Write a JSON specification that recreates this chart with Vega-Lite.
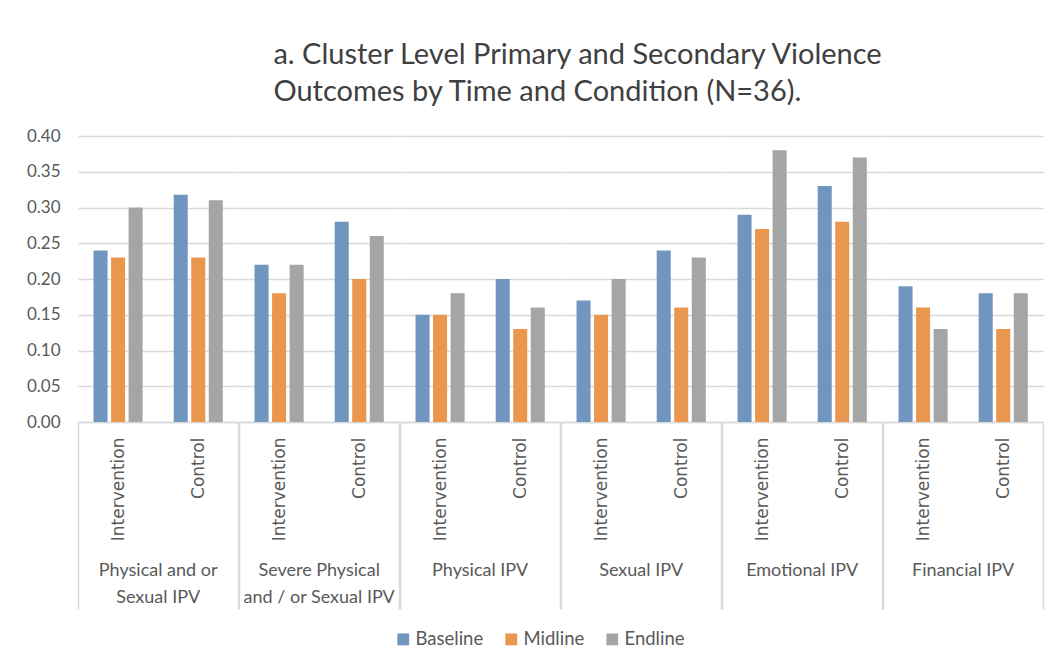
{
  "$schema": "https://vega.github.io/schema/vega-lite/v6.json",
  "padding": {"left": 26, "top": 41, "right": 10, "bottom": 5},
  "background": "white",
  "title": {
    "text": ["a. Cluster Level Primary and Secondary Violence", "Outcomes by Time and Condition (N=36)."],
    "font": "Lato",
    "fontSize": 29,
    "fontWeight": "normal",
    "color": "#404040",
    "lineHeight": 37,
    "anchor": "start",
    "align": "left",
    "dx": 247,
    "offset": 20
  },
  "data": {
    "values": [
      {"outcome": "Physical and or Sexual IPV", "condition": "Intervention", "time": "Baseline", "value": 0.24},
      {"outcome": "Physical and or Sexual IPV", "condition": "Intervention", "time": "Midline", "value": 0.23},
      {"outcome": "Physical and or Sexual IPV", "condition": "Intervention", "time": "Endline", "value": 0.30},
      {"outcome": "Physical and or Sexual IPV", "condition": "Control", "time": "Baseline", "value": 0.318},
      {"outcome": "Physical and or Sexual IPV", "condition": "Control", "time": "Midline", "value": 0.23},
      {"outcome": "Physical and or Sexual IPV", "condition": "Control", "time": "Endline", "value": 0.31},
      {"outcome": "Severe Physical and / or Sexual IPV", "condition": "Intervention", "time": "Baseline", "value": 0.22},
      {"outcome": "Severe Physical and / or Sexual IPV", "condition": "Intervention", "time": "Midline", "value": 0.18},
      {"outcome": "Severe Physical and / or Sexual IPV", "condition": "Intervention", "time": "Endline", "value": 0.22},
      {"outcome": "Severe Physical and / or Sexual IPV", "condition": "Control", "time": "Baseline", "value": 0.28},
      {"outcome": "Severe Physical and / or Sexual IPV", "condition": "Control", "time": "Midline", "value": 0.20},
      {"outcome": "Severe Physical and / or Sexual IPV", "condition": "Control", "time": "Endline", "value": 0.26},
      {"outcome": "Physical IPV", "condition": "Intervention", "time": "Baseline", "value": 0.15},
      {"outcome": "Physical IPV", "condition": "Intervention", "time": "Midline", "value": 0.15},
      {"outcome": "Physical IPV", "condition": "Intervention", "time": "Endline", "value": 0.18},
      {"outcome": "Physical IPV", "condition": "Control", "time": "Baseline", "value": 0.20},
      {"outcome": "Physical IPV", "condition": "Control", "time": "Midline", "value": 0.13},
      {"outcome": "Physical IPV", "condition": "Control", "time": "Endline", "value": 0.16},
      {"outcome": "Sexual IPV", "condition": "Intervention", "time": "Baseline", "value": 0.17},
      {"outcome": "Sexual IPV", "condition": "Intervention", "time": "Midline", "value": 0.15},
      {"outcome": "Sexual IPV", "condition": "Intervention", "time": "Endline", "value": 0.20},
      {"outcome": "Sexual IPV", "condition": "Control", "time": "Baseline", "value": 0.24},
      {"outcome": "Sexual IPV", "condition": "Control", "time": "Midline", "value": 0.16},
      {"outcome": "Sexual IPV", "condition": "Control", "time": "Endline", "value": 0.23},
      {"outcome": "Emotional IPV", "condition": "Intervention", "time": "Baseline", "value": 0.29},
      {"outcome": "Emotional IPV", "condition": "Intervention", "time": "Midline", "value": 0.27},
      {"outcome": "Emotional IPV", "condition": "Intervention", "time": "Endline", "value": 0.38},
      {"outcome": "Emotional IPV", "condition": "Control", "time": "Baseline", "value": 0.33},
      {"outcome": "Emotional IPV", "condition": "Control", "time": "Midline", "value": 0.28},
      {"outcome": "Emotional IPV", "condition": "Control", "time": "Endline", "value": 0.37},
      {"outcome": "Financial IPV", "condition": "Intervention", "time": "Baseline", "value": 0.19},
      {"outcome": "Financial IPV", "condition": "Intervention", "time": "Midline", "value": 0.16},
      {"outcome": "Financial IPV", "condition": "Intervention", "time": "Endline", "value": 0.13},
      {"outcome": "Financial IPV", "condition": "Control", "time": "Baseline", "value": 0.18},
      {"outcome": "Financial IPV", "condition": "Control", "time": "Midline", "value": 0.13},
      {"outcome": "Financial IPV", "condition": "Control", "time": "Endline", "value": 0.18}
    ]
  },
  "facet": {
    "column": {
      "field": "outcome",
      "type": "nominal",
      "sort": ["Physical and or Sexual IPV", "Severe Physical and / or Sexual IPV", "Physical IPV", "Sexual IPV", "Emotional IPV", "Financial IPV"],
      "title": null,
      "header": {
        "labelOrient": "bottom",
        "labelFont": "Lato",
        "labelFontSize": 18,
        "labelColor": "#595959",
        "labelPadding": -48,
        "labelLineHeight": 27,
        "labelBaseline": "top",
        "labelExpr": "datum.value == 'Physical and or Sexual IPV' ? ['Physical and or', 'Sexual IPV'] : datum.value == 'Severe Physical and / or Sexual IPV' ? ['Severe Physical', 'and / or Sexual IPV'] : datum.value"
      }
    }
  },
  "spacing": 0,
  "spec": {
    "width": 160.33,
    "height": 286,
    "mark": {"type": "bar"},
    "encoding": {
      "x": {
        "field": "condition",
        "type": "nominal",
        "sort": ["Intervention", "Control"],
        "scale": {"paddingInner": 0, "paddingOuter": 0},
        "axis": {
          "title": null,
          "labelAngle": -90,
          "labelFont": "DejaVu Sans",
          "labelFontSize": 17,
          "labelColor": "#595959",
          "labelPadding": -172,
          "tickBand": "extent",
          "tickSize": 187,
          "tickWidth": 1.5,
          "tickOpacity": {"condition": {"test": "datum.value === 'Intervention'", "value": 0}, "value": 1},
          "tickColor": "#d9d9d9",
          "domainColor": "#d9d9d9",
          "domainWidth": 1.5
        }
      },
      "xOffset": {
        "field": "time",
        "type": "nominal",
        "sort": ["Baseline", "Midline", "Endline"],
        "scale": {"paddingInner": 0.2, "paddingOuter": 0.886}
      },
      "y": {
        "field": "value",
        "type": "quantitative",
        "scale": {"domain": [0, 0.4], "nice": false},
        "axis": {
          "title": null,
          "format": ".2f",
          "values": [0, 0.05, 0.1, 0.15, 0.2, 0.25, 0.3, 0.35, 0.4],
          "labelFont": "Lato",
          "labelFontSize": 17,
          "labelColor": "#595959",
          "labelPadding": 18,
          "ticks": false,
          "domain": false,
          "gridColor": "#d9d9d9",
          "gridWidth": 1.5
        }
      },
      "color": {
        "field": "time",
        "type": "nominal",
        "sort": ["Baseline", "Midline", "Endline"],
        "scale": {"domain": ["Baseline", "Midline", "Endline"], "range": ["#7096c0", "#e9964f", "#a5a5a5"]},
        "legend": {
          "title": null,
          "orient": "none",
          "direction": "horizontal",
          "legendX": 316,
          "legendY": 494,
          "symbolType": "square",
          "symbolSize": 140,
          "symbolStrokeWidth": 0,
          "labelFont": "Lato",
          "labelFontSize": 18.5,
          "labelColor": "#595959",
          "labelOffset": 3,
          "columnPadding": 18
        }
      }
    }
  },
  "config": {
    "view": {"stroke": null},
    "axis": {"labelOverlap": false}
  }
}
